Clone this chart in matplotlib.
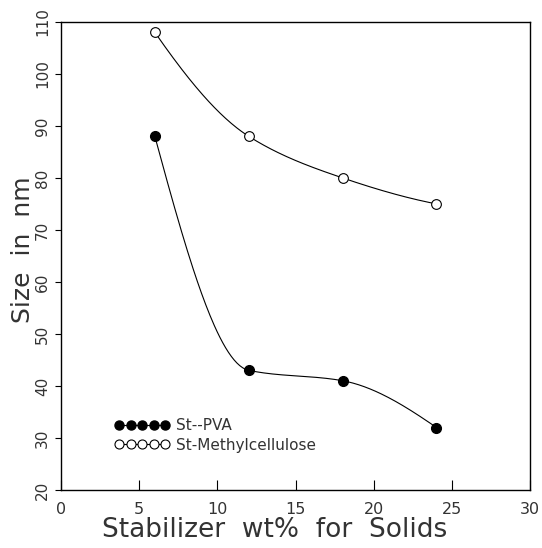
import numpy as np
import matplotlib
matplotlib.use('Agg')
import matplotlib.pyplot as plt
from matplotlib.lines import Line2D

# stabilizer wt% for solids
x_wt = [6, 12, 18, 24]
# particle size in nm
size_pva = [88, 43, 41, 32]
size_mc = [108, 88, 80, 75]
labels = ["St--PVA", "St-Methylcellulose"]

x_ticks = [0, 5, 10, 15, 20, 25, 30]
y_ticks = [20, 30, 40, 50, 60, 70, 80, 90, 100, 110]


def pchip(x, y, n=200):
    """Monotone cubic through the points (smooth connecting curve)."""
    x = np.asarray(x, float)
    y = np.asarray(y, float)
    h = np.diff(x)
    d = np.diff(y) / h
    m = np.zeros_like(y)
    for k in range(1, len(x) - 1):
        if d[k - 1] * d[k] > 0:
            w1 = 2 * h[k] + h[k - 1]
            w2 = h[k] + 2 * h[k - 1]
            m[k] = (w1 + w2) / (w1 / d[k - 1] + w2 / d[k])
    m[0] = ((2 * h[0] + h[1]) * d[0] - h[0] * d[1]) / (h[0] + h[1])
    if np.sign(m[0]) != np.sign(d[0]):
        m[0] = 0
    m[-1] = ((2 * h[-1] + h[-2]) * d[-1] - h[-1] * d[-2]) / (h[-1] + h[-2])
    if np.sign(m[-1]) != np.sign(d[-1]):
        m[-1] = 0
    xs = np.linspace(x[0], x[-1], n)
    idx = np.clip(np.searchsorted(x, xs) - 1, 0, len(h) - 1)
    t = (xs - x[idx]) / h[idx]
    h00 = 2 * t**3 - 3 * t**2 + 1
    h10 = t**3 - 2 * t**2 + t
    h01 = -2 * t**3 + 3 * t**2
    h11 = t**3 - t**2
    ys = (h00 * y[idx] + h10 * h[idx] * m[idx]
          + h01 * y[idx + 1] + h11 * h[idx] * m[idx + 1])
    return xs, ys


plt.rcParams['font.family'] = ['DejaVu Sans']
TXT = '#333333'

fig = plt.figure(figsize=(5.42, 5.48), dpi=100)
ax = fig.add_axes([0.1125, 0.106, 0.866, 0.854])

for ys in (size_pva, size_mc):
    xs_s, ys_s = pchip(x_wt, ys)
    ax.plot(xs_s, ys_s, color='black', lw=0.8, zorder=2)

ax.plot(x_wt, size_pva, 'o', ms=7, mfc='black', mec='black', zorder=3)
ax.plot(x_wt, size_mc, 'o', ms=7, mfc='white', mec='black', mew=0.8,
        zorder=3)

leg_handles = [
    Line2D([], [], marker='o', ms=6.5, mfc='black', mec='black',
           color='black', lw=0.8),
    Line2D([], [], marker='o', ms=6.5, mfc='white', mec='black',
           mew=0.8, color='black', lw=0.8),
]
leg = ax.legend(leg_handles, labels, numpoints=5, handlelength=3.6,
                frameon=False, loc='lower left',
                bbox_to_anchor=(0.085, 0.05), fontsize=11,
                handletextpad=0.4, labelspacing=0.3)
for t in leg.get_texts():
    t.set_color(TXT)

ax.set_xlim(0, 30)
ax.set_ylim(20, 110)
ax.set_xticks(x_ticks)
ax.set_yticks(y_ticks)
ax.set_xticklabels([str(v) for v in x_ticks], fontsize=11.5, color=TXT)
ax.set_yticklabels([str(v) for v in y_ticks], fontsize=11, color=TXT,
                   rotation=90, va='center')
ax.tick_params(axis='x', direction='in', length=7, width=0.8, pad=9)
ax.tick_params(axis='y', direction='out', length=4, width=0.8, pad=4)

for sp in ax.spines.values():
    sp.set_linewidth(1.0)

ax.set_xlabel('Stabilizer  wt%  for  Solids', fontsize=19, color=TXT)
ax.xaxis.set_label_coords(0.456, -0.058)
ax.set_ylabel('Size  in  nm', fontsize=18, color=TXT)
ax.yaxis.set_label_coords(-0.055, 0.513)

fig.savefig('out.png', dpi=100)
